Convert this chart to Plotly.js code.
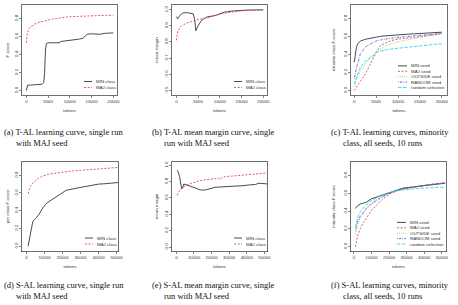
<!DOCTYPE html>
<html>
<head>
<meta charset="utf-8">
<script src="https://cdn.plot.ly/plotly-3.0.1.min.js"></script>
<style>
  html, body { margin: 0; padding: 0; background: #fff; }
  #fig { width: 458px; height: 305px; }
</style>
</head>
<body>
<div id="fig"></div>
<script>
// ---------- data ----------
// (a) T-AL learning curve, single run, MAJ seed
const tokA_min = [0, 300, 1000, 2000, 3000, 3600, 4000, 4200, 4400, 4600, 5000, 6000, 7000, 7500, 8000, 9000, 10000, 11000, 12000, 13000, 13500, 14000, 15000, 16000, 17000, 18000, 19000, 20000];
const fA_min   = [0.0, 0.06, 0.06, 0.065, 0.068, 0.07, 0.09, 0.2, 0.45, 0.52, 0.53, 0.53, 0.525, 0.53, 0.545, 0.55, 0.555, 0.565, 0.57, 0.58, 0.6, 0.625, 0.63, 0.63, 0.625, 0.635, 0.64, 0.64];
const tokA_maj = [0, 200, 500, 1000, 2000, 3000, 4000, 5000, 6000, 7000, 8000, 9000, 10000, 12000, 14000, 16000, 18000, 20000];
const fA_maj   = [0.53, 0.63, 0.68, 0.71, 0.74, 0.76, 0.77, 0.785, 0.795, 0.80, 0.81, 0.815, 0.82, 0.825, 0.83, 0.83, 0.835, 0.835];

// (b) T-AL mean margin, single run, MAJ seed
const tokB_min = [0, 300, 800, 1500, 2300, 3500, 3900, 4200, 4500, 5000, 5800, 7000, 9000, 11000, 13000, 16000, 18000, 20000];
const mB_min   = [0.958, 0.944, 0.965, 0.98, 0.983, 0.98, 0.975, 0.94, 0.87, 0.90, 0.935, 0.955, 0.965, 0.985, 0.993, 0.998, 0.999, 1.0];
const tokB_maj = [0, 300, 1000, 2300, 3500, 5000, 7300, 9600, 11900, 15000, 20000];
const mB_maj   = [0.81, 0.865, 0.896, 0.917, 0.927, 0.94, 0.95, 0.97, 0.983, 0.994, 1.0];

// (c) T-AL learning curves, minority class, all seeds, 10 runs
const tokC = [0, 250, 500, 800, 1400, 2600, 3500, 4500, 5300, 6000, 6800, 7600, 8500, 9900, 12000, 13800, 15300, 16900, 18500, 20000];
const fC_min  = [0.315, 0.39, 0.485, 0.52, 0.55, 0.57, 0.58, 0.59, 0.597, 0.602, 0.606, 0.61, 0.615, 0.62, 0.625, 0.63, 0.635, 0.64, 0.643, 0.648];
const fC_maj  = [0.0, 0.02, 0.04, 0.06, 0.106, 0.19, 0.28, 0.37, 0.45, 0.5, 0.52, 0.54, 0.555, 0.57, 0.58, 0.59, 0.6, 0.61, 0.62, 0.635];
const fC_out  = [0.05, 0.09, 0.13, 0.17, 0.22, 0.3, 0.36, 0.41, 0.44, 0.47, 0.49, 0.5, 0.52, 0.54, 0.565, 0.58, 0.595, 0.61, 0.62, 0.63];
const fC_rnd  = [0.125, 0.2, 0.26, 0.3, 0.41, 0.485, 0.515, 0.54, 0.555, 0.563, 0.57, 0.575, 0.582, 0.59, 0.6, 0.61, 0.615, 0.62, 0.628, 0.635];
const fC_sel  = [0.07, 0.11, 0.15, 0.18, 0.26, 0.33, 0.36, 0.39, 0.43, 0.44, 0.447, 0.455, 0.462, 0.47, 0.48, 0.49, 0.5, 0.51, 0.515, 0.52];

// (d) S-AL learning curve, single run, MAJ seed
const tokD_min = [900, 2000, 3500, 5000, 7000, 9000, 11000, 13000, 15000, 17000, 19000, 22000, 25000, 28000, 32000, 36000, 40000, 44000, 47000, 50000, 52000];
const fD_min   = [0.0, 0.14, 0.28, 0.31, 0.36, 0.43, 0.48, 0.51, 0.54, 0.57, 0.59, 0.63, 0.645, 0.655, 0.67, 0.685, 0.7, 0.705, 0.71, 0.72, 0.72];
const tokD_maj = [900, 2000, 3500, 5000, 7000, 9000, 12000, 15000, 18000, 22000, 26000, 30000, 35000, 40000, 45000, 50000, 52000];
const fD_maj   = [0.59, 0.67, 0.71, 0.74, 0.77, 0.79, 0.81, 0.82, 0.83, 0.84, 0.85, 0.855, 0.865, 0.87, 0.885, 0.89, 0.89];

// (e) S-AL mean margin, single run, MAJ seed
const tokE_min = [400, 1000, 1800, 2500, 3000, 3500, 4200, 5500, 7000, 9000, 11000, 13000, 15000, 17000, 19000, 22000, 26000, 30000, 34000, 38000, 42000, 45000, 47000, 50000, 52000];
const mE_min   = [0.94, 0.92, 0.86, 0.76, 0.71, 0.72, 0.77, 0.76, 0.75, 0.73, 0.72, 0.70, 0.695, 0.70, 0.715, 0.73, 0.735, 0.74, 0.74, 0.75, 0.76, 0.765, 0.78, 0.77, 0.77];
const tokE_maj = [400, 1500, 3000, 5000, 7500, 10000, 13000, 16000, 19000, 22000, 24000, 25000, 26000, 28000, 31000, 35000, 40000, 45000, 50000, 52000];
const mE_maj   = [0.63, 0.68, 0.72, 0.75, 0.77, 0.79, 0.81, 0.82, 0.83, 0.84, 0.84, 0.825, 0.85, 0.86, 0.865, 0.87, 0.88, 0.89, 0.9, 0.905];

// (f) S-AL learning curves, minority class, all seeds, 10 runs
const tokF = [800, 2000, 3500, 5000, 7000, 10000, 13000, 16000, 20000, 24000, 28000, 32000, 36000, 40000, 45000, 50000, 52000];
const fF_min = [0.43, 0.46, 0.48, 0.49, 0.50, 0.54, 0.56, 0.58, 0.615, 0.64, 0.66, 0.67, 0.68, 0.69, 0.70, 0.71, 0.715];
const fF_maj = [0.0, 0.12, 0.2, 0.26, 0.32, 0.41, 0.47, 0.53, 0.59, 0.625, 0.65, 0.665, 0.68, 0.69, 0.705, 0.715, 0.72];
const fF_out = [0.14, 0.25, 0.32, 0.37, 0.42, 0.48, 0.52, 0.56, 0.6, 0.63, 0.65, 0.665, 0.68, 0.69, 0.70, 0.71, 0.715];
const fF_rnd = [0.18, 0.28, 0.34, 0.38, 0.43, 0.49, 0.53, 0.56, 0.6, 0.63, 0.65, 0.665, 0.68, 0.69, 0.705, 0.715, 0.72];
const fF_sel = [0.22, 0.32, 0.39, 0.43, 0.47, 0.52, 0.55, 0.58, 0.61, 0.63, 0.64, 0.65, 0.655, 0.66, 0.665, 0.67, 0.67];

// labels
const classNames = ['MIN class', 'MAJ class'];
const seedNames  = ['MIN seed', 'MAJ seed', 'OUTSIDE seed', 'RANDOM seed', 'random selection'];
const captions = {
  a: ['(a) T-AL learning curve, single run', 'with MAJ seed'],
  b: ['(b) T-AL mean margin curve, single', 'run with MAJ seed'],
  c: ['(c) T-AL learning curves, minority', 'class, all seeds, 10 runs'],
  d: ['(d) S-AL learning curve, single run', 'with MAJ seed'],
  e: ['(e) S-AL mean margin curve, single', 'run with MAJ seed'],
  f: ['(f) S-AL learning curves, minority', 'class, all seeds, 10 runs']
};
const yTitles = {a: 'F-score', b: 'mean margin', c: 'minority class F-score',
                 d: 'per class F-score', e: 'mean margin', f: 'minority class F-score'};

// ---------- styling ----------
const W = 458, H = 305;
const SANS = 'Liberation Sans, Arial, sans-serif';
const SERIF = 'Liberation Serif, Times New Roman, serif';
const INK = '#333';
const styles = [
  {color: '#2a2a2a', dash: 'solid'},
  {color: '#e23a55', dash: '2px,1.6px'},
  {color: '#3cc63c', dash: '0.7px,1.4px'},
  {color: '#4646dc', dash: '0.7px,1.3px,2.2px,1.3px'},
  {color: '#22d6de', dash: '3.4px,1.5px'}
];
const LW = 0.85;

// plot boxes in pixels: [left, right, top, bottom]
const boxes = {
  a: [22, 117, 5, 95],   b: [172, 267, 5, 95],   c: [351, 447, 5, 95],
  d: [22, 118, 161.5, 251.5], e: [172, 267, 161.5, 251.5], f: [351, 446, 161.5, 251.5]
};
const panels = [
  {k: 'a', ax: '',  xr: [-1000, 20850], yr: [-0.05, 0.95], xt: [0, 5000, 10000, 15000, 20000], yt: [0, 0.2, 0.4, 0.6, 0.8], yf: '.1f', ysd: 3,
   series: [[tokA_min, fA_min], [tokA_maj, fA_maj]], names: classNames},
  {k: 'b', ax: '2', xr: [-1000, 20850], yr: [0.47, 1.03], xt: [0, 5000, 10000, 15000, 20000], yt: [0.5, 0.6, 0.7, 0.8, 0.9, 1.0], yf: '.1f', ysd: 4,
   series: [[tokB_min, mB_min], [tokB_maj, mB_maj]], names: classNames},
  {k: 'c', ax: '3', xr: [-750, 21200], yr: [-0.05, 0.95], xt: [0, 5000, 10000, 15000, 20000], yt: [0, 0.2, 0.4, 0.6, 0.8], yf: '.1f', ysd: 6,
   series: [[tokC, fC_min], [tokC, fC_maj], [tokC, fC_out], [tokC, fC_rnd], [tokC, fC_sel]], names: seedNames},
  {k: 'd', ax: '4', xr: [-2500, 50830], yr: [-0.06, 0.955], xt: [0, 10000, 20000, 30000, 40000, 50000], yt: [0, 0.2, 0.4, 0.6, 0.8], yf: '.1f', ysd: 3,
   series: [[tokD_min, fD_min], [tokD_maj, fD_maj]], names: classNames},
  {k: 'e', ax: '5', xr: [-2500, 51500], yr: [-0.055, 1.045], xt: [0, 10000, 20000, 30000, 40000, 50000], yt: [0, 0.2, 0.4, 0.6, 0.8, 1.0], yf: '.1f', ysd: 4,
   series: [[tokE_min, mE_min], [tokE_maj, mE_maj]], names: classNames},
  {k: 'f', ax: '6', xr: [-1700, 52400], yr: [-0.055, 0.96], xt: [0, 10000, 20000, 30000, 40000, 50000], yt: [0, 0.2, 0.4, 0.6, 0.8], yf: '.1f', ysd: 6,
   series: [[tokF, fF_min], [tokF, fF_maj], [tokF, fF_out], [tokF, fF_rnd], [tokF, fF_sel]], names: seedNames}
];

const px2x = p => p / W;
const px2y = p => 1 - p / H;

const traces = [];
const layout = {
  width: W, height: H,
  margin: {l: 0, r: 0, t: 0, b: 0},
  paper_bgcolor: '#fff', plot_bgcolor: '#fff',
  showlegend: false,
  font: {family: SANS, size: 4.4, color: INK},
  shapes: [], annotations: []
};

function axisBase() {
  return {
    showgrid: false, zeroline: false, showline: true, mirror: true,
    linecolor: '#333', linewidth: 0.7,
    ticks: 'outside', ticklen: 2, tickwidth: 0.6, tickcolor: '#333',
    tickfont: {family: SANS, size: 4.4, color: INK},
    fixedrange: true
  };
}

panels.forEach(p => {
  const [L, R, T, B] = boxes[p.k];
  const xa = 'xaxis' + p.ax, ya = 'yaxis' + p.ax;
  const xid = 'x' + p.ax, yid = 'y' + p.ax;

  layout[xa] = Object.assign(axisBase(), {
    domain: [px2x(L), px2x(R)], range: p.xr, anchor: yid,
    tickmode: 'array', tickvals: p.xt, tickformat: 'd',
    title: {text: 'tokens', font: {family: SANS, size: 4.4, color: INK}, standoff: 5}
  });
  layout[ya] = Object.assign(axisBase(), {
    domain: [px2y(B), px2y(T)], range: p.yr, anchor: xid,
    tickmode: 'array', tickvals: p.yt, tickformat: p.yf, tickangle: -90,
    title: {text: yTitles[p.k], font: {family: SANS, size: 4.4, color: INK}, standoff: p.ysd}
  });

  p.series.forEach((s, i) => {
    traces.push({
      type: 'scatter', mode: 'lines', x: s[0], y: s[1], name: p.names[i],
      xaxis: xid, yaxis: yid, hoverinfo: 'skip',
      line: {color: styles[i].color, dash: styles[i].dash, width: LW}
    });
  });

  // key in the lower right corner of the box
  const n = p.names.length;
  const five = n > 2;
  const lx0 = R - (five ? 49 : 33), lx1 = R - (five ? 40 : 25), tx = R - (five ? 38 : 23);
  p.names.forEach((nm, i) => {
    const yy = B - 7.5 - (n - 1 - i) * (five ? 5.4 : 6);
    layout.shapes.push({
      type: 'line', xref: 'paper', yref: 'paper',
      x0: px2x(lx0), x1: px2x(lx1), y0: px2y(yy), y1: px2y(yy),
      line: {color: styles[i].color, dash: styles[i].dash, width: LW}
    });
    layout.annotations.push({
      xref: 'paper', yref: 'paper', x: px2x(tx), y: px2y(yy),
      xanchor: 'left', yanchor: 'middle', showarrow: false,
      text: nm, font: {family: SANS, size: 4.4, color: INK}
    });
  });
});

// sub-figure captions
const capPos = {a: [2, 131.5], b: [150, 131.5], c: [329, 131.5], d: [2, 285], e: [150, 285], f: [329, 285]};
Object.keys(captions).forEach(k => {
  const [x0, y0] = capPos[k];
  const indent = 12;
  captions[k].forEach((line, j) => {
    layout.annotations.push({
      xref: 'paper', yref: 'paper',
      x: px2x(j === 0 ? x0 : x0 + indent), y: px2y(y0 + j * 11),
      xanchor: 'left', yanchor: 'middle', showarrow: false,
      text: line, font: {family: SERIF, size: 8.5, color: '#111'}
    });
  });
});

Plotly.newPlot('fig', traces, layout, {staticPlot: true, displayModeBar: false});
</script>
</body>
</html>
